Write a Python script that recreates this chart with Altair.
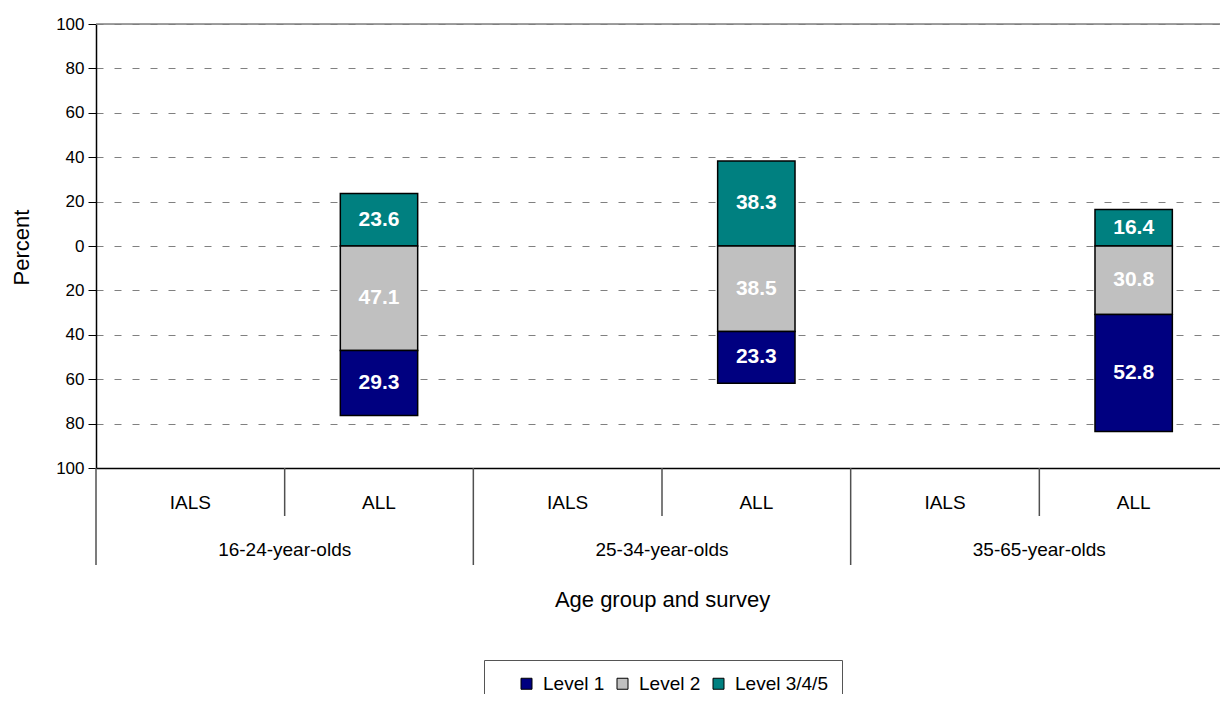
import altair as alt
import pandas as pd

# ---- data ----
groups = ["16-24-year-olds", "25-34-year-olds", "35-65-year-olds"]
surveys = ["IALS", "ALL"]
levels = ["Level 1", "Level 2", "Level 3/4/5"]
level1_all = [29.3, 23.3, 52.8]
level2_all = [47.1, 38.5, 30.8]
level345_all = [23.6, 38.3, 16.4]
level_colors = ["#000080", "#C0C0C0", "#008080"]
y_tick_values = [-100, -80, -60, -40, -20, 0, 20, 40, 60, 80, 100]

FONT = "Liberation Sans"

cats = [f"{g}|{s}" for g in groups for s in surveys]

rows = []
for g, v1, v2, v3 in zip(groups, level1_all, level2_all, level345_all):
    cat = f"{g}|ALL"
    segs = [
        ("Level 3/4/5", 0.0, v3, v3),
        ("Level 2", -v2, 0.0, v2),
        ("Level 1", -v2 - v1, -v2, v1),
    ]
    for lev, a, b, v in segs:
        rows.append({"cat": cat, "level": lev, "y0": a, "y1": b,
                     "ymid": (a + b) / 2, "label": f"{v:.1f}"})
seg_df = pd.DataFrame(rows)

sep_df = pd.DataFrame({"cat": cats, "survey": [c.split("|")[1] for c in cats]})
grp_df = pd.DataFrame({"cat": [f"{g}|IALS" for g in groups], "group": groups})

xscale = alt.Scale(domain=cats, paddingInner=0, paddingOuter=0)
yscale = alt.Scale(domain=[-100, 100], nice=False, zero=False)

xaxis = alt.Axis(
    title="Age group and survey",
    labelExpr="split(datum.label, '|')[1]",
    labelAngle=0, labelFontSize=19, labelFont=FONT, labelColor="black",
    labelPadding=25, ticks=False,
    domainColor="black", domainWidth=1.5,
    titleFont=FONT, titleFontSize=22, titleFontWeight="normal", titleColor="black",
    titleX=566, titleY=138, titleBaseline="alphabetic",
    grid=False,
)
yaxis = alt.Axis(
    title="Percent",
    values=y_tick_values,
    labelExpr="abs(datum.value)",
    labelFont=FONT, labelFontSize=17, labelColor="black", labelPadding=4,
    tickColor="black", tickSize=8, tickWidth=1,
    domainColor="black", domainWidth=1.5,
    grid=True, gridColor="#808080", gridDash=[7, 11], gridWidth=1,
    titleFont=FONT, titleFontSize=22, titleFontWeight="normal", titleColor="black",
    titleX=-68, titleY=223, titleBaseline="alphabetic", titleAngle=270,
)

color = alt.Color(
    "level:N",
    scale=alt.Scale(domain=levels, range=level_colors),
    legend=alt.Legend(
        orient="none", legendX=388, legendY=636, direction="horizontal",
        title="\u2003", titleOrient="left", titleFontSize=20, titlePadding=19,
        strokeColor="#555555", padding=14, fillColor="white",
        symbolType="square", symbolSize=121, symbolStrokeColor="black",
        symbolStrokeWidth=1, symbolOpacity=1,
        labelFont=FONT, labelFontSize=19, labelColor="black", labelOffset=7,
        columnPadding=8, labelLimit=300,
    ),
)

bars = alt.Chart(seg_df).mark_bar(
    width=alt.RelativeBandSize(0.41), stroke="black", strokeWidth=1.5, opacity=1
).encode(
    x=alt.X("cat:N", scale=xscale, axis=xaxis, sort=cats),
    y=alt.Y("y0:Q", scale=yscale, axis=yaxis),
    y2="y1:Q",
    color=color,
)

labels = alt.Chart(seg_df).mark_text(
    color="white", font=FONT, fontSize=21, fontWeight="bold", baseline="middle"
).encode(
    x=alt.X("cat:N", scale=xscale, sort=cats),
    y=alt.Y("ymid:Q", scale=yscale),
    text="label:N",
)

top_line = alt.Chart(pd.DataFrame({"v": [100]})).mark_rule(
    color="#808080", strokeWidth=1.5
).encode(y=alt.Y("v:Q", scale=yscale))

short_sep = alt.Chart(sep_df).transform_filter("datum.survey == 'ALL'").mark_rule(
    color="#505050", strokeWidth=1.5
).encode(
    x=alt.X("cat:N", scale=xscale, sort=cats, bandPosition=0),
    y=alt.value(444), y2=alt.value(492),
)
long_sep = alt.Chart(sep_df).transform_filter("datum.survey == 'IALS'").mark_rule(
    color="#505050", strokeWidth=1.5
).encode(
    x=alt.X("cat:N", scale=xscale, sort=cats, bandPosition=0),
    y=alt.value(444), y2=alt.value(541),
)

group_text = alt.Chart(grp_df).mark_text(
    font=FONT, fontSize=19, color="black", baseline="alphabetic", align="center"
).encode(
    x=alt.X("cat:N", scale=xscale, sort=cats, bandPosition=1),
    y=alt.value(532),
    text="group:N",
)

chart = alt.layer(top_line, bars, labels, short_sep, long_sep, group_text).properties(
    width=1132, height=444,
    autosize=alt.AutoSizeParams(type="none"),
    padding={"left": 88, "top": 16, "right": -8, "bottom": 226},
).configure_view(stroke=None).configure(background="white")

chart.save("out.html", embed_options={"renderer": "svg", "actions": False})
